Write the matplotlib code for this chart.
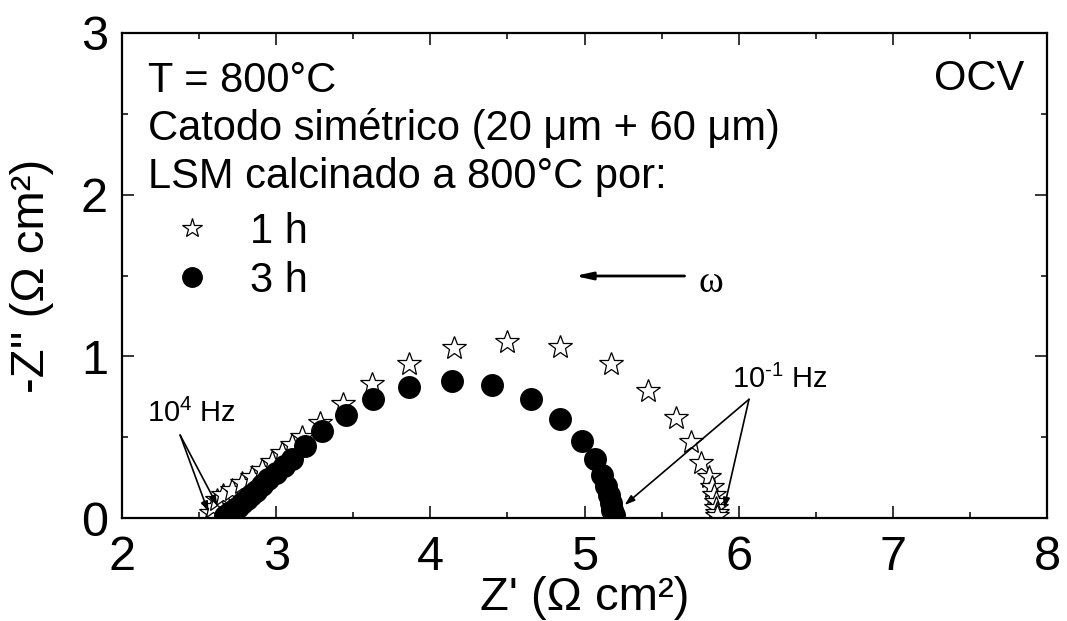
import matplotlib.pyplot as plt

plt.rcParams['font.family'] = ['Liberation Sans', 'DejaVu Sans']
plt.rcParams['mathtext.fontset'] = 'custom'
plt.rcParams['mathtext.rm'] = 'Liberation Sans'
plt.rcParams['mathtext.it'] = 'Liberation Sans:italic'

# 1 h calcination (open stars), high -> low frequency
z_re_1h = [2.58, 2.59, 2.615, 2.658, 2.712, 2.777, 2.842, 2.907, 2.972, 3.037, 3.10,
           3.17, 3.286, 3.433, 3.621, 3.859, 4.151, 4.498, 4.844, 5.169, 5.411,
           5.591, 5.688, 5.753, 5.807, 5.829, 5.84, 5.85, 5.855, 5.86, 5.86]
z_im_1h = [0.03, 0.07, 0.111, 0.142, 0.173, 0.215, 0.255, 0.297, 0.348, 0.40, 0.451,
           0.503, 0.589, 0.705, 0.829, 0.952, 1.049, 1.09, 1.059, 0.951, 0.787,
           0.62, 0.472, 0.338, 0.255, 0.194, 0.14, 0.10, 0.06, 0.03, 0.01]

# 3 h calcination (filled circles)
z_re_3h = [2.67, 2.69, 2.71, 2.73, 2.75, 2.78, 2.81, 2.84, 2.87, 2.91, 2.95, 3.00,
           3.05, 3.10, 3.19, 3.30, 3.45, 3.63, 3.86, 4.14, 4.40, 4.65, 4.84, 4.985,
           5.065, 5.115, 5.14, 5.16, 5.17, 5.18, 5.19]
z_im_3h = [0.01, 0.025, 0.04, 0.055, 0.07, 0.095, 0.12, 0.145, 0.17, 0.205, 0.24, 0.28,
           0.32, 0.365, 0.447, 0.538, 0.635, 0.734, 0.812, 0.847, 0.823, 0.736, 0.610,
           0.478, 0.363, 0.266, 0.2, 0.14, 0.09, 0.05, 0.02]

x_ticks = [2, 3, 4, 5, 6, 7, 8]
y_ticks = [0, 1, 2, 3]

px = 1 / 100
fig = plt.figure(figsize=(1067 * px, 621 * px), dpi=100)
ax = fig.add_axes([122 / 1067, 1 - 518 / 621, 925 / 1067, 485 / 621])

ax.plot(z_re_1h, z_im_1h, linestyle='none', marker='*', ms=18, mfc='white',
        mec='black', mew=0.9)
ax.plot(z_re_3h, z_im_3h, linestyle='none', marker='o', ms=15.5, mfc='black',
        mec='black')

ax.set_xlim(2, 8)
ax.set_ylim(0, 3)
ax.set_xticks(x_ticks)
ax.set_yticks(y_ticks)
ax.set_xticks([v + 0.5 for v in x_ticks[:-1]], minor=True)
ax.set_yticks([v + 0.5 for v in y_ticks[:-1]], minor=True)
ax.tick_params(which='both', direction='in', top=True, right=True, width=1.1)
ax.tick_params(which='major', length=8.5, labelsize=35)
ax.tick_params(axis='x', which='major', pad=12)
ax.tick_params(axis='y', which='major', pad=10)
ax.tick_params(which='minor', length=4.3)
for s in ax.spines.values():
    s.set_linewidth(1.6)

ax.set_xlabel("Z' (Ω cm²)", fontsize=34, labelpad=-3)
ax.set_ylabel("-Z'' (Ω cm²)", fontsize=34)
ax.yaxis.set_label_coords(-0.074, 0.5)

# Text block
ax.text(2.169, 2.636, 'T = 800°C', fontsize=30, va='baseline')
ax.text(2.169, 2.338, 'Catodo simétrico (20 μm + 60 μm)', fontsize=30, va='baseline')
ax.text(2.169, 2.041, 'LSM calcinado a 800°C por:', fontsize=30, va='baseline')
ax.plot([2.453], [1.792], linestyle='none', marker='*', ms=15, mfc='white',
        mec='black', mew=0.9)
ax.plot([2.456], [1.492], linestyle='none', marker='o', ms=14, mfc='black', mec='black')
ax.text(2.831, 1.70, '1 h', fontsize=30, va='baseline')
ax.text(2.831, 1.398, '3 h', fontsize=30, va='baseline')
ax.text(7.85, 2.647, 'OCV', fontsize=30, va='baseline', ha='right')

# frequency direction arrow
ax.annotate('', xy=(4.92, 1.497), xytext=(5.667, 1.497),
            arrowprops=dict(arrowstyle='-|>,head_length=1.0,head_width=0.22',
                            color='black', lw=2))
ax.text(5.74, 1.455, 'ω', fontsize=27, family='Liberation Serif', va='center')

# frequency labels
ax.text(2.16, 0.596, r'10$^{\mathrm{4}}$ Hz', fontsize=21, va='baseline')
for end in [(2.56, 0.037), (2.62, 0.074)]:
    ax.annotate('', xy=end, xytext=(2.377, 0.513),
                arrowprops=dict(arrowstyle='-|>,head_length=0.6,head_width=0.2',
                                color='black', lw=1.2, shrinkA=0, shrinkB=0))
ax.text(5.958, 0.802, r'10$^{\text{-}1}$ Hz', fontsize=21, va='baseline')
for end in [(5.26, 0.08), (5.905, 0.06)]:
    ax.annotate('', xy=end, xytext=(6.067, 0.734),
                arrowprops=dict(arrowstyle='-|>,head_length=0.6,head_width=0.2',
                                color='black', lw=1.2, shrinkA=0, shrinkB=0))

fig.savefig('out.png', dpi=100)
